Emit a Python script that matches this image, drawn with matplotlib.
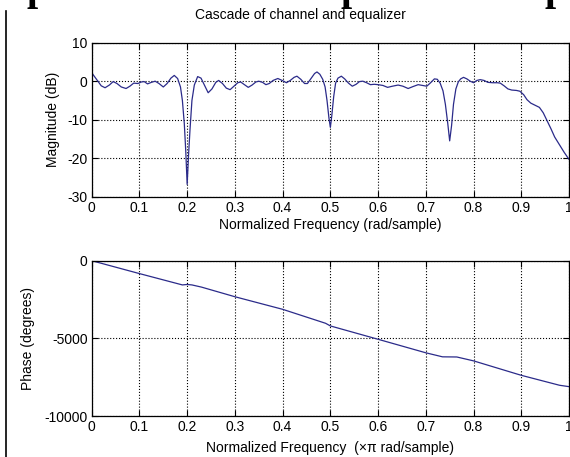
import matplotlib
matplotlib.use("Agg")
import matplotlib.pyplot as plt
from matplotlib.lines import Line2D

plt.rcParams['font.family'] = ['Liberation Sans', 'DejaVu Sans']
plt.rcParams['font.size'] = 10
plt.rcParams['axes.unicode_minus'] = False

# Magnitude response of cascade (normalized frequency, dB)
freq_mag = [0.000, 0.010, 0.020, 0.028, 0.037, 0.045, 0.053, 0.062, 0.072, 0.080,
            0.088, 0.097, 0.104, 0.110, 0.117, 0.125, 0.133, 0.141, 0.150, 0.158,
            0.166, 0.173, 0.180, 0.186, 0.190, 0.194, 0.197, 0.200, 0.203, 0.206,
            0.210, 0.215, 0.222, 0.229, 0.236, 0.244, 0.252, 0.260, 0.266, 0.274,
            0.282, 0.290, 0.298, 0.306, 0.312, 0.320, 0.328, 0.336, 0.344, 0.350,
            0.358, 0.365, 0.372, 0.380, 0.390, 0.399, 0.408, 0.416, 0.424, 0.430,
            0.438, 0.446, 0.452, 0.460, 0.467, 0.472, 0.478, 0.484, 0.489, 0.493,
            0.497, 0.500, 0.503, 0.507, 0.511, 0.516, 0.523, 0.530, 0.538, 0.546,
            0.554, 0.561, 0.568, 0.576, 0.584, 0.592, 0.600, 0.610, 0.620, 0.630,
            0.642, 0.652, 0.663, 0.673, 0.684, 0.693, 0.702, 0.710, 0.718, 0.724,
            0.730, 0.736, 0.741, 0.746, 0.750, 0.754, 0.758, 0.763, 0.768, 0.773,
            0.779, 0.786, 0.793, 0.800, 0.807, 0.814, 0.822, 0.830, 0.840, 0.850,
            0.856, 0.864, 0.872, 0.880, 0.890, 0.897, 0.905, 0.912, 0.920, 0.930,
            0.938, 0.946, 0.953, 0.962, 0.970, 0.980, 0.990, 1.000]
mag_db = [2.2, 0.5, -1.2, -1.7, -1.0, -0.1, -0.6, -1.5, -1.9, -1.3,
          -0.5, -0.6, -0.2, -0.1, -0.7, -0.3, 0.0, -0.6, -1.5, -0.6,
          0.8, 1.5, 0.7, -1.5, -5.0, -11.0, -18.0, -26.8, -19.0, -12.5,
          -5.0, -1.0, 1.2, 0.8, -1.0, -3.0, -2.0, -0.3, 0.2, -0.6,
          -1.8, -2.2, -1.3, -0.4, -0.2, -0.9, -1.6, -1.0, -0.2, 0.0,
          -0.3, -0.9, -0.6, 0.2, 0.7, 0.2, -0.4, 0.2, 1.0, 1.3,
          0.5, -0.6, -0.6, 0.8, 2.0, 2.4, 1.8, 0.5, -1.5, -5.0,
          -9.5, -12.0, -9.0, -4.0, -0.5, 0.8, 1.3, 0.6, -0.5, -1.3,
          -0.8, -0.1, 0.0, -0.4, -0.9, -0.8, -0.9, -1.1, -1.6, -1.3,
          -1.0, -1.3, -1.9, -1.4, -0.9, -1.1, -1.3, -0.4, 0.6, 0.5,
          -0.5, -2.5, -6.0, -11.0, -15.5, -11.5, -6.0, -2.0, -0.2, 0.6,
          1.0, 0.6, 0.0, -0.4, 0.2, 0.4, 0.2, -0.3, -0.4, -0.4,
          -0.5, -1.2, -2.0, -2.3, -2.4, -2.6, -3.5, -4.8, -5.7, -6.3,
          -6.8, -8.2, -10.0, -12.3, -14.5, -16.5, -18.5, -20.3]

# Phase response (degrees)
freq_ph = [0.0, 0.1, 0.19, 0.2, 0.21, 0.23, 0.3, 0.4, 0.49, 0.5,
           0.6, 0.7, 0.735, 0.765, 0.8, 0.9, 0.98, 1.0]
phase_deg = [0, -830, -1560, -1530, -1560, -1700, -2320, -3130, -4030, -4200,
             -5060, -5930, -6190, -6200, -6450, -7380, -8020, -8110]

xticks = [0, 0.1, 0.2, 0.3, 0.4, 0.5, 0.6, 0.7, 0.8, 0.9, 1]
xticklabels = ['0', '0.1', '0.2', '0.3', '0.4', '0.5', '0.6', '0.7', '0.8', '0.9', '1']
mag_ticks = [-30, -20, -10, 0, 10]
ph_ticks = [-10000, -5000, 0]

W, H = 570, 457
fig = plt.figure(figsize=(W / 100, H / 100), dpi=100)

line_color = '#2b2b8a'


def px_axes(left, top, right, bottom):
    return fig.add_axes([left / W, 1 - bottom / H, (right - left) / W, (bottom - top) / H])


def style(ax):
    ax.set_xlim(0, 1)
    ax.set_xticks(xticks)
    ax.set_xticklabels(xticklabels)
    ax.grid(True, color='black', linestyle=':', linewidth=0.8)
    ax.tick_params(direction='in', length=4, width=0.8, top=True, right=True,
                   pad=3, labelsize=10)
    for s in ax.spines.values():
        s.set_linewidth(0.9)
        s.set_color('black')


ax1 = px_axes(91.7, 42.7, 569, 196.7)
ax1.plot(freq_mag, mag_db, color=line_color, linewidth=0.9)
style(ax1)
ax1.set_ylim(-30, 10)
ax1.set_yticks(mag_ticks)
ax1.set_ylabel('Magnitude (dB)')
ax1.set_xlabel('Normalized Frequency (rad/sample)')
ax1.yaxis.set_label_coords((60 - 91.7) / 477.3, 0.5)
ax1.xaxis.set_label_coords(0.5, (196.7 - 225) / 154)
ax1.xaxis.label.set_verticalalignment('center')

ax2 = px_axes(91.7, 260.7, 569, 416)
ax2.plot(freq_ph, phase_deg, color=line_color, linewidth=0.9)
style(ax2)
ax2.set_ylim(-10000, 0)
ax2.set_yticks(ph_ticks)
ax2.set_ylabel('Phase (degrees)')
ax2.set_xlabel('Normalized Frequency  (\u00d7\u03c0 rad/sample)')
ax2.yaxis.set_label_coords((35 - 91.7) / 477.3, 0.5)
ax2.xaxis.set_label_coords(0.5, (416 - 448) / 155.3)
ax2.xaxis.label.set_verticalalignment('center')

fig.text(300 / W, 1 - 15.5 / H, 'Cascade of channel and equalizer',
         ha='center', va='center', fontsize=10)

# cropped page remnants: left rule and bottoms of a bold heading line
fig.add_artist(Line2D([6 / W, 6 / W], [0, 1 - 11 / H], color='black', linewidth=1.2))
for xp in [38, 352, 556]:
    fig.text(xp / W, 1.0, 'p', ha='center', va='baseline',
             fontfamily='Liberation Serif', fontweight='bold', fontsize=29)

fig.savefig('out.png', dpi=100)
